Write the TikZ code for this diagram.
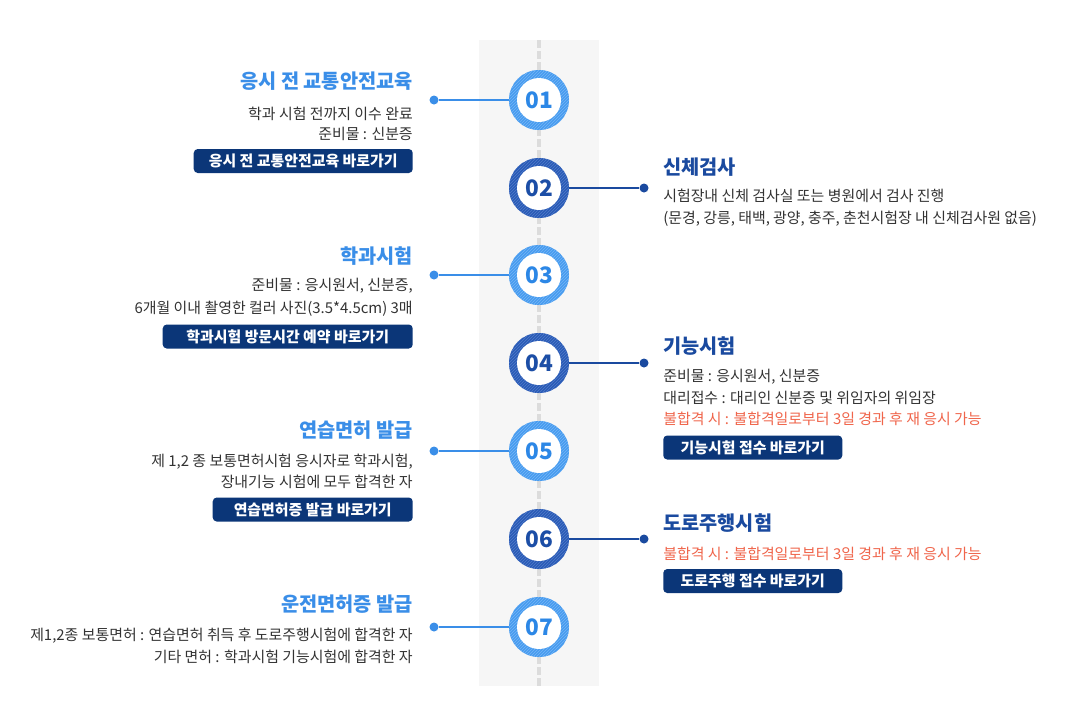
\documentclass[tikz,border=0pt]{standalone}
\usepackage{fontspec}
\setmainfont{Noto Sans CJK KR}
\definecolor{lring}{HTML}{4098EE}
\definecolor{lstripe}{HTML}{6DB0F5}
\definecolor{lnum}{HTML}{2C87E6}
\definecolor{dring}{HTML}{2456B3}
\definecolor{dstripe}{HTML}{4A75C6}
\definecolor{dnum}{HTML}{1C4EA6}
\definecolor{ltitlec}{HTML}{3A8EE8}
\definecolor{dtitlec}{HTML}{1A4A9F}
\definecolor{bodyc}{HTML}{333333}
\definecolor{redc}{HTML}{F0654B}
\definecolor{navy}{HTML}{0B3678}
\definecolor{bandc}{HTML}{F6F6F6}
\definecolor{dashc}{HTML}{DCDCDC}
\begin{document}
\begin{tikzpicture}[x=0.75pt,y=-0.75pt,
  ring/.style n args={3}{circle, minimum size=45pt, inner sep=0pt, fill=#1, text=#3,
    font=\fontsize{17}{18}\selectfont\bfseries,
    path picture={
      \foreach \i in {-60,-57,...,60}{
        \draw[#2, line width=0.7pt] ([shift={(\i-40,40)}]path picture bounding box.center) -- ++(80,-80);
      }
      \fill[white] (path picture bounding box.center) circle (22);
    }},
  ringL/.style={ring={lring}{lstripe}{lnum}},
  ringD/.style={ring={dring}{dstripe}{dnum}},
  dotnode/.style={circle, inner sep=0pt, minimum size=6.75pt, fill=#1},
  connL/.style={draw=ltitlec, line width=1.5pt},
  connD/.style={draw=dtitlec, line width=1.5pt},
  ltitle/.style={inner sep=0pt, text=ltitlec, font=\fontsize{14.8}{16}\selectfont\bfseries, anchor=base east},
  rtitle/.style={inner sep=0pt, text=dtitlec, font=\fontsize{14.8}{16}\selectfont\bfseries, anchor=base west},
  lbody/.style={inner sep=0pt, text=bodyc, font=\fontsize{11.2}{13}\selectfont, anchor=base east},
  rbody/.style={inner sep=0pt, text=bodyc, font=\fontsize{11.2}{13}\selectfont, anchor=base west},
  btn/.style={fill=navy, text=white, rounded corners=3pt, inner sep=0pt, minimum height=18pt,
    font=\fontsize{11.2}{13}\selectfont\bfseries, minimum width=#1},
  dashline/.style={draw=dashc, line width=3pt, dash pattern=on 6pt off 2.25pt}
]
\useasboundingbox (0,0) rectangle (1087,726);
\fill[white] (0,0) rectangle (1087,726);
\fill[bandc] (479,40) rectangle (599,686);
\draw[dashline] (539,40) -- (539,686);

% circles
\node[ringL] (c1) at (539,100) {01};
\node[ringD] (c2) at (539,188) {02};
\node[ringL] (c3) at (539,275) {03};
\node[ringD] (c4) at (539,363) {04};
\node[ringL] (c5) at (539,451) {05};
\node[ringD] (c6) at (539,539) {06};
\node[ringL] (c7) at (539,627) {07};

% dots and connectors
\node[dotnode=ltitlec] (d1) at (434,100) {};
\node[dotnode=dtitlec] (d2) at (644,188) {};
\node[dotnode=ltitlec] (d3) at (434,275) {};
\node[dotnode=dtitlec] (d4) at (644,363) {};
\node[dotnode=ltitlec] (d5) at (434,451) {};
\node[dotnode=dtitlec] (d6) at (644,539) {};
\node[dotnode=ltitlec] (d7) at (434,627) {};
\draw[connL] (d1) -- (c1);
\draw[connD] (c2) -- (d2);
\draw[connL] (d3) -- (c3);
\draw[connD] (c4) -- (d4);
\draw[connL] (d5) -- (c5);
\draw[connD] (c6) -- (d6);
\draw[connL] (d7) -- (c7);

% block 1
\node[ltitle] (t1) at (413,88) {응시 전 교통안전교육};
\node[lbody] (b1a) at (413,119) {학과 시험 전까지 이수 완료};
\node[lbody] (b1b) at (413,139.5) {준비물 : 신분증};
\node[btn=164.25pt, anchor=east] (k1) at (413,161) {응시 전 교통안전교육 바로가기};

% block 2
\node[rtitle] (t2) at (663,174) {신체검사};
\node[rbody] (b2a) at (663,201.5) {시험장내 신체 검사실 또는 병원에서 검사 진행};
\node[rbody] (b2b) at (663,223.5) {(문경, 강릉, 태백, 광양, 충주, 춘천시험장 내 신체검사원 없음)};

% block 3
\node[ltitle] (t3) at (413,263) {학과시험};
\node[lbody] (b3a) at (413,290.5) {준비물 : 응시원서, 신분증,};
\node[lbody] (b3b) at (413,313.5) {6개월 이내 촬영한 컬러 사진(3.5*4.5cm) 3매};
\node[btn=187.5pt, anchor=east] (k3) at (413,336.5) {학과시험 방문시간 예약 바로가기};

% block 4
\node[rtitle] (t4) at (663,353) {기능시험};
\node[rbody] (b4a) at (663,381.5) {준비물 : 응시원서, 신분증};
\node[rbody] (b4b) at (663,403.5) {대리접수 : 대리인 신분증 및 위임자의 위임장};
\node[rbody, text=redc] (b4c) at (663,424.5) {불합격 시 : 불합격일로부터 3일 경과 후 재 응시 가능};
\node[btn=134.25pt, anchor=west] (k4) at (663,447.5) {기능시험 접수 바로가기};

% block 5
\node[ltitle] (t5) at (413,437) {연습면허 발급};
\node[lbody] (b5a) at (413,466.5) {제 1,2 종 보통면허시험 응시자로 학과시험,};
\node[lbody] (b5b) at (413,487.5) {장내기능 시험에 모두 합격한 자};
\node[btn=150pt, anchor=east] (k5) at (413,509.5) {연습면허증 발급 바로가기};

% block 6
\node[rtitle] (t6) at (663,530) {도로주행시험};
\node[rbody, text=redc] (b6a) at (663,559.5) {불합격 시 : 불합격일로부터 3일 경과 후 재 응시 가능};
\node[btn=134.25pt, anchor=west] (k6) at (663,581) {도로주행 접수 바로가기};

% block 7
\node[ltitle] (t7) at (413,611) {운전면허증 발급};
\node[lbody] (b7a) at (413,640.5) {제1,2종 보통면허 : 연습면허 취득 후 도로주행시험에 합격한 자};
\node[lbody] (b7b) at (413,662.5) {기타 면허 : 학과시험 기능시험에 합격한 자};
\end{tikzpicture}
\end{document}
